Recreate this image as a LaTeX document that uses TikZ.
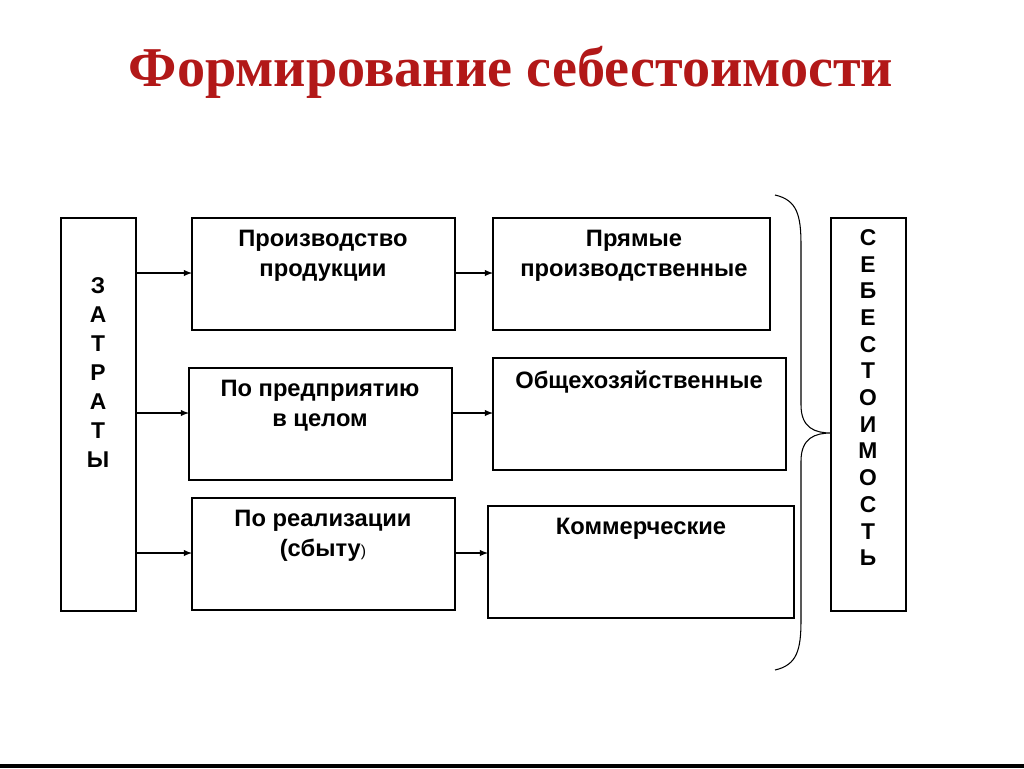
\documentclass[tikz,border=0pt]{standalone}
\usepackage{fontspec}
\setmainfont{Liberation Sans}
\newfontfamily\titlefont{Liberation Serif}
\definecolor{titlered}{RGB}{178,24,24}
\tikzset{
  costbox/.style={draw,line width=0.6pt},
  boxtext/.style={anchor=north,align=center,font=\bfseries\fontsize{13.5}{17}\selectfont,inner sep=0pt},
  feed/.style={-latex,line width=0.6pt},
}
\begin{document}
\begin{tikzpicture}[x=0.02cm,y=-0.02cm]
\useasboundingbox (0,0) rectangle (1024,768);
\fill[black] (0,764) rectangle (1024,768);
\node[titlered,font=\titlefont\bfseries\fontsize{32}{36}\selectfont] (title) at (511,72) {Формирование себестоимости};
% boxes
\draw[costbox] (61,218) rectangle (136,611);
\draw[costbox] (192,218) rectangle (455,330);
\draw[costbox] (493,218) rectangle (770,330);
\draw[costbox] (189,368) rectangle (452,480);
\draw[costbox] (493,358) rectangle (786,470);
\draw[costbox] (192,498) rectangle (455,610);
\draw[costbox] (488,506) rectangle (794,618);
\draw[costbox] (831,218) rectangle (906,611);
% texts
\node[boxtext,align=center,font=\bfseries\fontsize{13}{16.5}\selectfont] (zatr) at (98,277) {З\\А\\Т\\Р\\А\\Т\\Ы};
\node[boxtext,font=\bfseries\fontsize{13}{15.2}\selectfont] (sebes) at (868,229) {С\\Е\\Б\\Е\\С\\Т\\О\\И\\М\\О\\С\\Т\\Ь};
\node[boxtext] (proizv) at (323,230) {Производство\\продукции};
\node[boxtext] (pryam) at (634,230) {Прямые\\производственные};
\node[boxtext] (predpr) at (320,380) {По предприятию\\в целом};
\node[boxtext] (obsch) at (639,370) {Общехозяйственные};
\node[boxtext] (realiz) at (323,510) {По реализации\\(сбыту{\mdseries\fontsize{9}{9}\selectfont)}};
\node[boxtext] (komm) at (641,518) {Коммерческие};
% arrows
\coordinate (z1) at (136,273); \coordinate (p1) at (192,273);
\coordinate (z2) at (136,413); \coordinate (p2) at (189,413);
\coordinate (z3) at (136,553); \coordinate (p3) at (192,553);
\coordinate (q1) at (455,273); \coordinate (r1) at (493,273);
\coordinate (q2) at (452,413); \coordinate (r2) at (493,413);
\coordinate (q3) at (455,553); \coordinate (r3) at (488,553);
\foreach \i in {1,2,3} {
  \draw[feed] (z\i) -- (p\i);
  \draw[feed] (q\i) -- (r\i);
}
% brace
\coordinate (btop) at (775,195);
\coordinate (bbot) at (775,670);
\coordinate (btip) at (831,433);
\draw[line width=0.6pt] (btop) .. controls (797,200) and (801,215) .. (801,245)
  -- (801,405) .. controls (801,428) and (815,433) .. (btip)
  .. controls (815,433) and (801,438) .. (801,461)
  -- (801,620) .. controls (801,650) and (797,665) .. (bbot);
\end{tikzpicture}
\end{document}
